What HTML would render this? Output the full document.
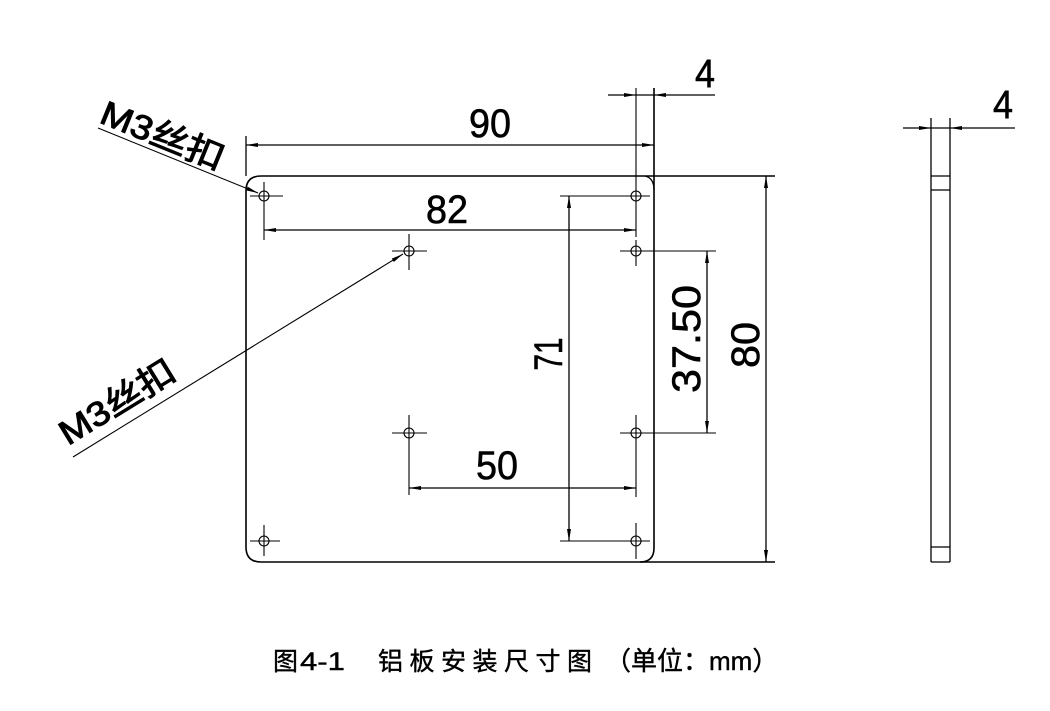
<!DOCTYPE html>
<html><head><meta charset="utf-8"><style>
html,body{margin:0;padding:0;background:#fff;}
svg{display:block;}
text{font-family:"Liberation Sans","Noto Sans CJK SC",sans-serif;fill:#000;}
</style></head><body>
<svg width="1050" height="711" viewBox="0 0 1050 711" xmlns="http://www.w3.org/2000/svg">
<defs>
<marker id="a" viewBox="0 0 12 6" refX="12" refY="3" markerWidth="12" markerHeight="6" markerUnits="userSpaceOnUse" orient="auto"><path d="M0,1 L12,3 L0,5 z" fill="#000"/></marker>
</defs>
<g stroke="#000" fill="none" stroke-width="1.3">
<!-- plate -->
<path d="M261,176 L775,176 M654,88 L654,548 Q654,562 640,562 L261,562 Q246,562 246,547 L246,191 Q246,176 261,176" stroke-width="1.6"/>
<path d="M645,176 Q654,178 654,190" stroke-width="1.3"/>
<line x1="640" y1="562" x2="775" y2="562" stroke-width="1.6"/>
<!-- holes -->
<g stroke-width="1.1">
<circle cx="264" cy="196" r="5"/><line x1="250" y1="196" x2="283" y2="196"/><line x1="264" y1="182" x2="264" y2="240"/>
<circle cx="636" cy="196" r="5"/><line x1="560" y1="196" x2="650" y2="196"/><line x1="636" y1="88" x2="636" y2="237"/>
<circle cx="409" cy="251" r="5"/><line x1="392" y1="251" x2="427" y2="251"/><line x1="409" y1="234" x2="409" y2="270"/>
<circle cx="636" cy="251" r="5"/><line x1="620" y1="251" x2="716" y2="251"/><line x1="636" y1="240" x2="636" y2="266"/>
<circle cx="409" cy="433" r="5"/><line x1="392" y1="433" x2="427" y2="433"/><line x1="409" y1="415" x2="409" y2="495"/>
<circle cx="636" cy="433" r="5"/><line x1="620" y1="433" x2="716" y2="433"/><line x1="636" y1="415" x2="636" y2="497"/>
<circle cx="264" cy="541" r="5"/><line x1="250" y1="541" x2="280" y2="541"/><line x1="264" y1="525" x2="264" y2="556"/>
<circle cx="636" cy="541" r="5"/><line x1="560" y1="541" x2="650" y2="541"/><line x1="636" y1="523" x2="636" y2="559"/>
</g>
<!-- 90 -->
<line x1="246" y1="136" x2="246" y2="176"/>
<line x1="300" y1="145" x2="246" y2="145" marker-end="url(#a)"/>
<line x1="300" y1="145" x2="654" y2="145" marker-end="url(#a)"/>
<!-- 82 -->
<line x1="440" y1="230" x2="264" y2="230" marker-end="url(#a)"/>
<line x1="440" y1="230" x2="636" y2="230" marker-end="url(#a)"/>
<!-- 4 top -->
<line x1="608" y1="95" x2="636" y2="95" marker-end="url(#a)"/>
<line x1="715" y1="95" x2="654" y2="95" marker-end="url(#a)"/>
<line x1="636" y1="95" x2="654" y2="95"/>
<!-- 71 -->
<line x1="569" y1="360" x2="569" y2="196" marker-end="url(#a)"/>
<line x1="569" y1="360" x2="569" y2="541" marker-end="url(#a)"/>
<!-- 37.50 -->
<line x1="707" y1="340" x2="707" y2="251" marker-end="url(#a)"/>
<line x1="707" y1="340" x2="707" y2="433" marker-end="url(#a)"/>
<!-- 80 -->
<line x1="766" y1="360" x2="766" y2="176" marker-end="url(#a)"/>
<line x1="766" y1="360" x2="766" y2="562" marker-end="url(#a)"/>
<!-- 50 -->
<line x1="500" y1="488" x2="409" y2="488" marker-end="url(#a)"/>
<line x1="500" y1="488" x2="636" y2="488" marker-end="url(#a)"/>
<!-- leaders -->
<line x1="98" y1="128" x2="258" y2="193" stroke-width="1.1" marker-end="url(#a)"/>
<line x1="73" y1="457" x2="403" y2="254" stroke-width="1.1" marker-end="url(#a)"/>
<!-- side view -->
<line x1="931" y1="118" x2="931" y2="562"/>
<line x1="950" y1="118" x2="950" y2="562"/>
<line x1="931" y1="562" x2="950" y2="562"/>
<line x1="931" y1="176" x2="950" y2="176"/>
<line x1="931" y1="190" x2="950" y2="190"/>
<line x1="931" y1="547" x2="950" y2="547"/>
<line x1="903" y1="128" x2="931" y2="128" marker-end="url(#a)"/>
<line x1="1015" y1="128" x2="950" y2="128" marker-end="url(#a)"/>
<line x1="931" y1="128" x2="950" y2="128"/>
</g>
<g font-size="40" stroke="#000" stroke-width="0.6">
<text x="490" y="137" text-anchor="middle" textLength="42" lengthAdjust="spacingAndGlyphs">90</text>
<text x="447" y="223" text-anchor="middle" textLength="42" lengthAdjust="spacingAndGlyphs">82</text>
<text x="497" y="479" text-anchor="middle" textLength="42" lengthAdjust="spacingAndGlyphs">50</text>
<text x="705" y="87" text-anchor="middle" textLength="20" lengthAdjust="spacingAndGlyphs">4</text>
<text x="1003" y="118" text-anchor="middle" textLength="20" lengthAdjust="spacingAndGlyphs">4</text>
<text transform="translate(562,354) rotate(-90)" text-anchor="middle" textLength="33" lengthAdjust="spacingAndGlyphs">71</text>
<text transform="translate(700,339) rotate(-90)" text-anchor="middle" textLength="108" lengthAdjust="spacingAndGlyphs">37.50</text>
<text transform="translate(759,345) rotate(-90)" text-anchor="middle" textLength="46" lengthAdjust="spacingAndGlyphs">80</text>
</g>
<g font-size="34" stroke="#000" stroke-width="1">
<text transform="translate(98,122) rotate(22.1)" textLength="130" lengthAdjust="spacingAndGlyphs">M3丝扣</text>
<text transform="translate(68,446) rotate(-31.6)" textLength="130" lengthAdjust="spacingAndGlyphs">M3丝扣</text>
</g>
<g font-size="25" stroke="#000" stroke-width="0.4">
<text x="273" y="670">图</text>
<text x="300" y="670" textLength="45" lengthAdjust="spacingAndGlyphs">4-1</text>
<text x="378" y="670" letter-spacing="6.5">铝板安装尺寸图</text>
<text x="605" y="670" font-size="26">（单位：mm）</text>
</g>
</svg>
</body></html>
